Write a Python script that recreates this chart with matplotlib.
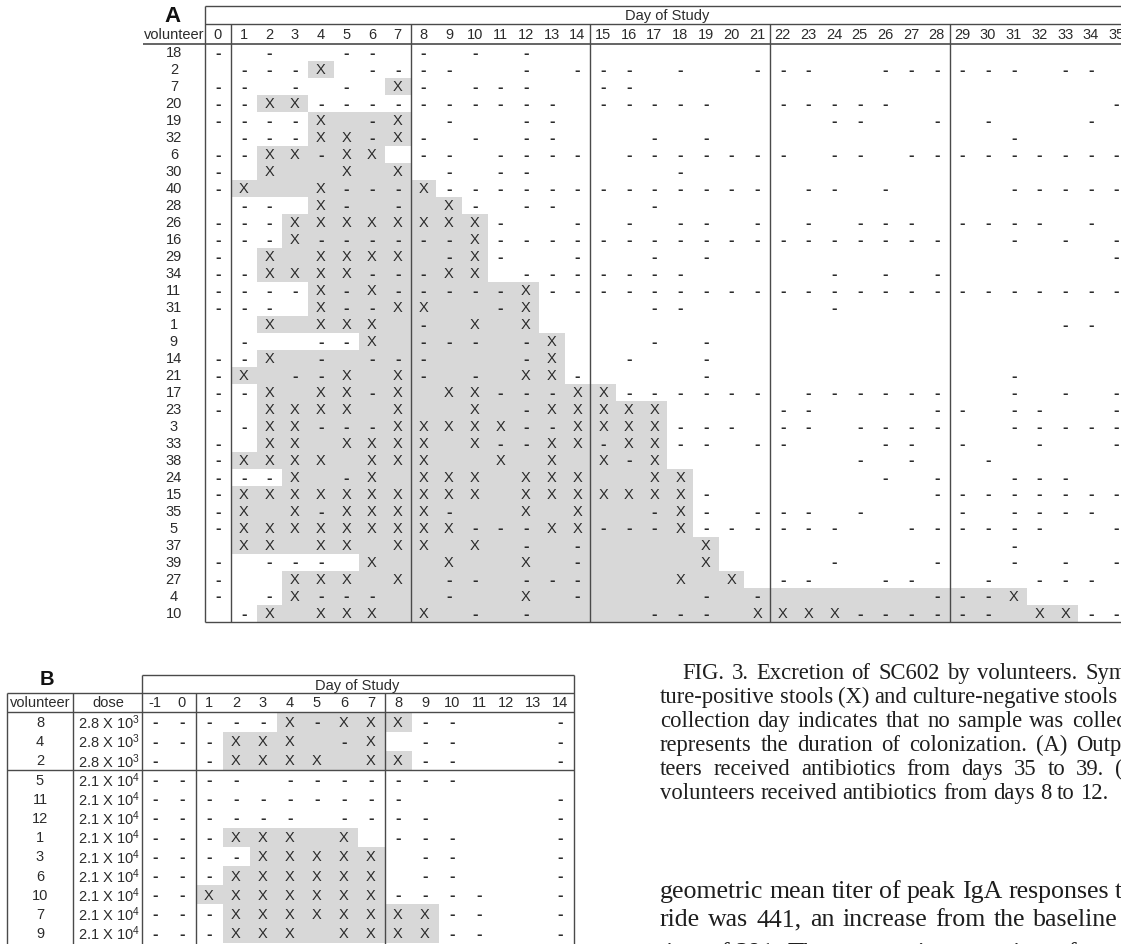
import matplotlib
matplotlib.use('Agg')
import matplotlib.pyplot as plt

plt.rcParams['font.family'] = ['Liberation Sans', 'DejaVu Sans']
plt.rcParams['mathtext.fontset'] = 'custom'
plt.rcParams['mathtext.rm'] = 'Liberation Sans'
plt.rcParams['mathtext.it'] = 'Liberation Sans:italic'
plt.rcParams['mathtext.bf'] = 'Liberation Sans:bold'

# ---------------- Panel A: outpatient study ----------------
days_a = list(range(0, 36))
volunteers_a = [18, 2, 7, 20, 19, 32, 6, 30, 40, 28, 26, 16, 29, 34, 11, 31, 1,
                9, 14, 21, 17, 23, 3, 33, 38, 24, 15, 35, 5, 37, 39, 27, 4, 10]
# culture-positive stools (X), by day
pos_a = [
    [],
    [4],
    [7],
    [2, 3],
    [4, 7],
    [4, 5, 7],
    [2, 3, 5, 6],
    [2, 5, 7],
    [1, 4, 8],
    [4, 9],
    [3, 4, 5, 6, 7, 8, 9, 10],
    [3, 10],
    [2, 4, 5, 6, 7, 10],
    [2, 3, 4, 5, 9, 10],
    [4, 6, 12],
    [4, 7, 8, 12],
    [2, 4, 5, 6, 10, 12],
    [6, 13],
    [2, 13],
    [1, 5, 7, 12, 13],
    [2, 4, 5, 7, 9, 10, 14, 15],
    [2, 3, 4, 5, 7, 10, 13, 14, 15, 16, 17],
    [2, 3, 7, 8, 9, 10, 11, 14, 15, 16, 17],
    [2, 3, 5, 6, 7, 8, 10, 13, 14, 16, 17],
    [1, 2, 3, 4, 6, 7, 8, 11, 13, 15, 17],
    [3, 6, 8, 9, 10, 12, 13, 14, 17, 18],
    [1, 2, 3, 4, 5, 6, 7, 8, 9, 10, 12, 13, 14, 15, 16, 17, 18],
    [1, 3, 5, 6, 7, 8, 12, 14, 18],
    [1, 2, 3, 4, 5, 6, 7, 8, 9, 13, 14, 18],
    [1, 2, 4, 5, 7, 8, 10, 19],
    [6, 9, 12, 19],
    [3, 4, 5, 7, 18, 20],
    [3, 12, 31],
    [2, 4, 5, 6, 8, 21, 22, 23, 24, 32, 33],
]
# culture-negative stools (-), by day
neg_a = [
    [0, 2, 5, 6, 8, 10, 12],
    [1, 2, 3, 6, 7, 8, 9, 12, 14, 15, 16, 18, 21, 22, 23, 26, 27, 28, 29, 30, 31, 33, 34],
    [0, 1, 3, 5, 8, 10, 11, 12, 15, 16],
    [0, 1, 4, 5, 6, 7, 8, 9, 10, 11, 12, 13, 15, 16, 17, 18, 19, 22, 23, 24, 25, 26, 35],
    [0, 1, 2, 3, 6, 9, 12, 13, 24, 25, 28, 30, 34],
    [1, 2, 3, 6, 8, 10, 12, 13, 17, 19, 31],
    [0, 1, 4, 8, 9, 11, 12, 13, 14, 16, 17, 18, 19, 20, 21, 22, 24, 25, 27, 28, 29,
     30, 31, 32, 33, 34, 35],
    [0, 9, 11, 12, 18],
    [0, 5, 6, 7, 9, 10, 11, 12, 13, 14, 15, 16, 17, 18, 19, 20, 21, 23, 24, 26, 31,
     32, 33, 34, 35],
    [1, 2, 5, 7, 10, 12, 13, 17],
    [0, 1, 2, 11, 14, 16, 18, 19, 21, 23, 25, 26, 27, 29, 30, 31, 32, 34],
    [0, 1, 2, 4, 5, 6, 7, 8, 9, 11, 12, 13, 14, 15, 16, 17, 18, 19, 20, 21, 22, 23,
     24, 25, 26, 27, 28, 31, 33, 35],
    [0, 9, 11, 14, 17, 19, 35],
    [0, 1, 6, 7, 8, 12, 13, 14, 15, 16, 17, 18, 24, 26, 28],
    [0, 1, 2, 3, 5, 7, 8, 9, 10, 11, 13, 14, 15, 16, 17, 18, 19, 20, 21, 22, 23, 24,
     25, 26, 27, 28, 29, 30, 31, 32, 33, 34, 35],
    [0, 1, 2, 5, 6, 11, 17, 18, 24],
    [8, 33, 34],
    [1, 4, 5, 8, 9, 10, 12, 17, 19],
    [0, 1, 4, 6, 7, 8, 12, 16, 19],
    [0, 3, 4, 8, 10, 14, 19, 31],
    [0, 1, 6, 11, 12, 13, 16, 17, 18, 19, 20, 21, 23, 24, 25, 26, 27, 28, 31, 33, 35],
    [0, 12, 22, 23, 28, 29, 31, 32, 35],
    [1, 4, 5, 6, 12, 13, 18, 19, 20, 22, 23, 25, 26, 27, 28, 31, 32, 33, 34, 35],
    [0, 11, 12, 15, 18, 19, 21, 22, 26, 27, 29, 32, 35],
    [0, 16, 25, 27, 30],
    [0, 1, 2, 5, 26, 28, 31, 32, 33],
    [0, 19, 28, 29, 30, 31, 32, 33, 34, 35],
    [0, 4, 9, 17, 19, 21, 22, 23, 25, 29, 31, 32, 33, 34],
    [0, 10, 11, 12, 15, 16, 17, 19, 20, 21, 22, 23, 24, 27, 28, 29, 30, 31, 32, 35],
    [12, 14, 31],
    [0, 2, 3, 4, 14, 24, 28, 31, 33, 35],
    [0, 9, 10, 12, 13, 14, 22, 23, 26, 27, 30, 32, 33, 34],
    [0, 2, 4, 5, 6, 9, 14, 19, 21, 28, 29, 30],
    [1, 10, 12, 17, 18, 19, 25, 26, 27, 28, 29, 30, 34, 35],
]
# duration of colonization (shaded), first and last day
col_start_a = [None, 4, 7, 2, 4, 4, 2, 2, 1, 4, 3, 3, 2, 2, 4, 4, 2, 6, 2, 1, 2, 2,
               2, 2, 1, 3, 1, 1, 1, 1, 6, 3, 3, 2]
col_end_a = [None, 4, 7, 3, 7, 7, 6, 7, 8, 9, 10, 10, 10, 10, 12, 12, 12, 13, 13, 13,
             15, 17, 17, 17, 17, 18, 18, 18, 18, 19, 19, 20, 31, 33]

# ---------------- Panel B: inpatient study ----------------
days_b = list(range(-1, 15))
volunteers_b = [8, 4, 2, 5, 11, 12, 1, 3, 6, 10, 7, 9]
dose_b = ['2.8 X 10$^{3}$', '2.8 X 10$^{3}$', '2.8 X 10$^{3}$',
          '2.1 X 10$^{4}$', '2.1 X 10$^{4}$', '2.1 X 10$^{4}$', '2.1 X 10$^{4}$',
          '2.1 X 10$^{4}$', '2.1 X 10$^{4}$', '2.1 X 10$^{4}$', '2.1 X 10$^{4}$',
          '2.1 X 10$^{4}$']
pos_b = [
    [4, 6, 7, 8],
    [2, 3, 4, 7],
    [2, 3, 4, 5, 7, 8],
    [],
    [],
    [],
    [2, 3, 4, 6],
    [3, 4, 5, 6, 7],
    [2, 3, 4, 5, 6, 7],
    [1, 2, 3, 4, 5, 6, 7],
    [2, 3, 4, 5, 6, 7, 8, 9],
    [2, 3, 4, 6, 7, 8, 9],
]
neg_b = [
    [-1, 0, 1, 2, 3, 5, 9, 10, 14],
    [-1, 0, 1, 6, 9, 10, 14],
    [-1, 1, 9, 10, 14],
    [-1, 0, 1, 2, 4, 5, 6, 7, 8, 9, 10],
    [-1, 0, 1, 2, 3, 4, 5, 6, 7, 8, 14],
    [-1, 0, 1, 2, 3, 4, 6, 7, 8, 9, 14],
    [-1, 0, 1, 8, 9, 10, 14],
    [-1, 0, 1, 2, 9, 10, 14],
    [-1, 0, 1, 9, 10, 14],
    [-1, 0, 8, 9, 10, 11, 14],
    [-1, 0, 1, 10, 11, 14],
    [-1, 0, 1, 10, 11, 14],
]
col_start_b = [4, 2, 2, None, None, None, 2, 3, 2, 1, 2, 2]
col_end_b = [8, 7, 8, None, None, None, 6, 7, 7, 7, 9, 9]

caption_lines = [
    "FIG. 3. Excretion of SC602 by volunteers. Symbols",
    "ture-positive stools (X) and culture-negative stools",
    "collection day indicates that no sample was collected.",
    "represents the duration of colonization. (A) Outpatient",
    "teers received antibiotics from days 35 to 39. (B)",
    "volunteers received antibiotics from days 8 to 12.",
]
body_lines = [
    "geometric mean titer of peak IgA responses to",
    "ride was 441, an increase from the baseline",
    "titer of 291. The geometric mean titer of",
]

# ---------------- layout ----------------
W, H = 1121, 945
SHADE = '#d8d8d8'
INK = '#2b2b2b'
RULE = '#4a4a4a'

fig = plt.figure(figsize=(W / 100, H / 100), dpi=100)
fig.patch.set_facecolor('white')

# each panel gets a full-figure axes whose data units are (day, row)
A_X0, A_DX, A_Y0, A_DY = 218, 25.67, 53, 17.0
B_X0, B_DX, B_Y0, B_DY = 182, 27.0, 723, 19.2

axA = fig.add_axes([0, 0, 1, 1])
axA.set_xlim(-A_X0 / A_DX, (W - A_X0) / A_DX)
axA.set_ylim((H - A_Y0) / A_DY, -A_Y0 / A_DY)
axB = fig.add_axes([0, 0, 1, 1])
axB.set_xlim(-B_X0 / B_DX, (W - B_X0) / B_DX)
axB.set_ylim((H - B_Y0) / B_DY, -B_Y0 / B_DY)
for ax in (axA, axB):
    ax.axis('off')
    ax.patch.set_alpha(0)


def draw_grid(ax, pos, neg, starts, ends, fs):
    rows = [i for i, s in enumerate(starts) if s is not None]
    ax.barh(rows, [ends[i] - starts[i] + 1 for i in rows],
            left=[starts[i] - 0.5 for i in rows], height=1.0,
            color=SHADE, linewidth=0, zorder=0)
    for i, (p, n) in enumerate(zip(pos, neg)):
        for d in p:
            ax.text(d, i, 'X', ha='center', va='center', fontsize=fs, color=INK)
        for d in n:
            ax.text(d, i, '-', ha='center', va='center', fontsize=fs + 1.5,
                    color=INK, fontweight='bold')


# ---- panel A ----
nA = len(volunteers_a)
draw_grid(axA, pos_a, neg_a, col_start_a, col_end_a, 10.5)
right_a = days_a[-1] + 0.5
top_a, mid_a = -2.70, -1.65
axA.hlines([top_a, mid_a], -0.5, right_a, color=RULE, lw=1.0)
axA.hlines(-0.5, -2.92, right_a, color=RULE, lw=1.2)
axA.hlines(nA - 0.5, -0.5, right_a, color=RULE, lw=1.0)
axA.vlines([-0.5, right_a], top_a, nA - 0.5, color=RULE, lw=1.0)
axA.vlines([0.5, 7.5, 14.5, 21.5, 28.5], mid_a, nA - 0.5, color=RULE, lw=1.0)
axA.text(17.5, (top_a + mid_a) / 2, 'Day of Study', ha='center', va='center',
         fontsize=10.5, color=INK)
for d in days_a:
    axA.text(d, -1.07, str(d), ha='center', va='center', fontsize=10.5, color=INK)
axA.text(-1.72, -1.07, 'volunteer', ha='center', va='center', fontsize=10.5,
         color=INK)
for i, v in enumerate(volunteers_a):
    axA.text(-1.72, i, str(v), ha='center', va='center', fontsize=10.5, color=INK)
axA.text(-1.76, -2.12, 'A', ha='center', va='center', fontsize=16,
         fontweight='bold', color='#111111')

# ---- panel B ----
nB = len(volunteers_b)
draw_grid(axB, pos_b, neg_b, col_start_b, col_end_b, 10.5)
right_b = days_b[-1] + 0.5
left_b, dose_l, top_b, mid_b = -6.48, -4.04, -2.45, -1.5
bottom_b = nB + 1
axB.hlines(top_b, -1.5, right_b, color=RULE, lw=1.0)
axB.hlines([mid_b, -0.5, 2.5], left_b, right_b, color=RULE, lw=1.0)
axB.vlines([left_b, dose_l, 0.5, 7.5], mid_b, bottom_b, color=RULE, lw=1.0)
axB.vlines([-1.5, right_b], top_b, bottom_b, color=RULE, lw=1.0)
axB.text(6.5, (top_b + mid_b) / 2 + 0.05, 'Day of Study', ha='center',
         va='center', fontsize=10.5, color=INK)
for d in days_b:
    axB.text(d, -1.02, str(d), ha='center', va='center', fontsize=10.5, color=INK)
axB.text(-5.26, -1.02, 'volunteer', ha='center', va='center', fontsize=10.5,
         color=INK)
axB.text(-2.72, -1.02, 'dose', ha='center', va='center', fontsize=10.5, color=INK)
for i, (v, dose) in enumerate(zip(volunteers_b, dose_b)):
    axB.text(-5.26, i, str(v), ha='center', va='center', fontsize=10.5, color=INK)
    axB.text(-2.72, i, dose, ha='center', va='center', fontsize=10.5, color=INK)
axB.text(-5.0, -2.29, 'B', ha='center', va='center', fontsize=14.5,
         fontweight='bold', color='#111111')

# ---------------- caption and body text (justified by word) ----------------
renderer = fig.canvas.get_renderer()


def set_line(words, y_base, x_first, x_last, size):
    arts = [fig.text(0, 0, w, ha='left', va='baseline', fontsize=size,
                     family=['Liberation Serif', 'DejaVu Serif'], color='#1e1e1e')
            for w in words]
    widths = [a.get_window_extent(renderer).width for a in arts]
    if x_last is None:
        gap = arts[0].get_fontsize() * 100 / 72 * 0.25
    else:
        gap = (x_last - x_first - sum(widths[:-1])) / (len(words) - 1)
    x = x_first
    for a, w in zip(arts, widths):
        a.set_position((x / W, 1 - y_base / H))
        x += w + gap


cap_first = [682, 660, 660, 660, 660, 660]
cap_last = [1085, 1064, 1072, 1076, 1115, None]
for k, line in enumerate(caption_lines):
    set_line(line.split(), 679 + 24 * k, cap_first[k], cap_last[k], 16.3)

body_last = [1115, 1033, None]
body_base = [898, 926, 960]
for k, line in enumerate(body_lines):
    set_line(line.split(), body_base[k], 660, body_last[k], 18.6)

fig.savefig('out.png', dpi=100, facecolor='white')
